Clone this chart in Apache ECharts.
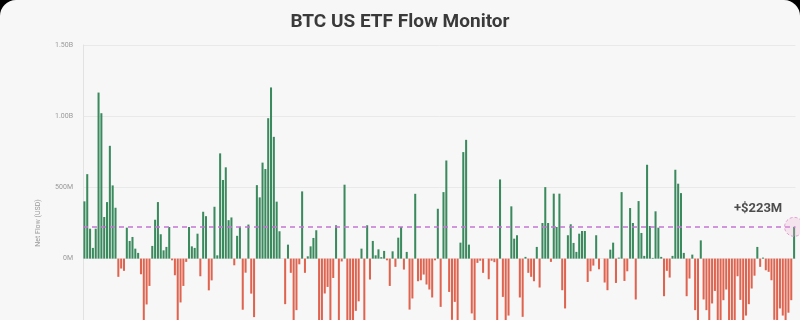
<!DOCTYPE html>
<html>
<head>
<meta charset="utf-8">
<script src="https://cdn.jsdelivr.net/npm/echarts@6/dist/echarts.min.js"></script>
<style>
html,body{margin:0;padding:0;width:800px;height:320px;overflow:hidden;background:#000;}
#c{width:800px;height:420px;background:#f7f7f7;border-radius:16px 16px 0 0;}
</style>
</head>
<body>
<div id="c"></div>
<script>
// Net flows in millions of USD left to right (segments)
var flowsA = [402, 593, 210, 75, 210, 1166, 1021, 292, 397, 792, 514, 357, -128, -70, -86, 217, 124, 152, 70, 40, -110, -550, -322, -192, 89, 273, 397, 171, 58, 82, 222, -12, -117, -520, -308, -192, -23, 222, 86, 75, 175, -124];
var flowsB = [329, 298, -223, -153, 364, 23, 739, 552, 641, 270, 289, -47, 160, 223, -359, -99, 239, -246, -411, 516, 430, 674, 629, 986, 1202, 855, 400, 192];
var flowsC = [0, -320, 98, -100, -450, -362, -40, 472, -100, 16, 86, 145, 199, -500];
var flowsD = [-520, -245, -199, -480, -136, 234, -600, -20, 519, -450, -600, -550, -367, -300, 70, -600, 234, -147, 124, 23, 65, 10, 54, -12, -192, 51, -58, 147, 222, -77, 47, -358, -280, 455, -159, -152, -112, -182, -217, -273, -12, 350];
var flowsE = [-339, 467, 689, -234, -430, -304, -500, 112, 748, 834, 98, -385, -520, -30, -15, -100, 0, -145, -15, -25, -550, 556, -269, -450, -400, 367, 140, 164, -273, -409, 12, -100, -128, -159, 82, -203, 250, 502, 250, -23, 456, 222, 456];
var flowsF = [-222, -350, 164, 241, 110, 47, 175, 194, 194, -164, -89, -49, 164, -75, 0, -168, -222, 63, 112, -171, 7, 467, -157, -89, 355, 250, -287, 404, 180, 19, 659, 229, 5, 332, 217, 12, -264, -86, -133, 19, 624, 526];
var flowsG = [460, 40, -264, -140, 28, -362, -520, 128, -287, -362, -480, -315, -227, -500, -460, -292, -217, -450, -600, -500, -124, -290, -480, -400, -320, -210, -120, 82, -58, 7, -82, -93, -152, -430, -470, -350, -400, -520, -380, -292, 223];
var latestFlow = 223;
var yTicks = {min: -1000, max: 1500, interval: 500};
var titleText = 'BTC US ETF Flow Monitor';
var yName = 'Net Flow (USD)';

var flows = [].concat(flowsA, flowsB, flowsC, flowsD, flowsE, flowsF, flowsG);
var days = flows.map(function(v, i){ return 'Day ' + (i + 1); });

function fmt(v){
  var a = Math.abs(v);
  if (a >= 1000) return (v/1000).toFixed(2) + 'B';
  return v + 'M';
}

var chart = echarts.init(document.getElementById('c'), null, {renderer:'canvas'});
chart.setOption({
  backgroundColor: 'transparent',
  animation: false,
  title: {
    text: titleText, left: 'center', top: 8,
    textStyle: {fontFamily: 'Roboto', fontWeight: 'bold', fontSize: 19, color: '#3a3a3a'}
  },
  grid: {left: 83, right: 4.5, top: 45, bottom: 19},
  xAxis: {
    type: 'category', data: days,
    axisLine: {show: false}, axisTick: {show: false}, axisLabel: {show: false}, splitLine: {show: false}
  },
  yAxis: {
    type: 'value', min: yTicks.min, max: yTicks.max, interval: yTicks.interval,
    name: yName, nameLocation: 'middle', nameGap: 30,
    nameTextStyle: {fontFamily: 'Roboto', fontSize: 7, color: '#999'},
    axisLine: {show: true, lineStyle: {color: '#e2e2e2'}},
    axisTick: {show: false},
    axisLabel: {formatter: fmt, fontFamily: 'Roboto', fontSize: 7, color: '#999', margin: 10},
    splitLine: {lineStyle: {color: '#e9e9e9', width: 1}}
  },
  series: [{
    type: 'bar',
    data: flows,
    barCategoryGap: '28%',
    itemStyle: {
      color: function(p){ return p.value >= 0 ? '#3a8a5e' : '#df6450'; }
    },
    markLine: {
      silent: true, symbol: ['none', 'none'],
      label: {show: false},
      lineStyle: {type: [5, 4], color: '#c476d2', width: 1.5},
      data: [{yAxis: latestFlow}]
    }
  }, {
    type: 'scatter',
    data: [[days[days.length - 1], latestFlow]],
    symbol: 'circle', symbolSize: 19,
    itemStyle: {color: 'rgba(240,175,215,0.35)', borderColor: '#d990c9', borderWidth: 1, borderType: [3, 2]},
    label: {
      show: true, position: 'top', distance: 2, offset: [-36, 0],
      formatter: '+$' + latestFlow + 'M',
      fontFamily: 'Roboto', fontWeight: 'bold', fontSize: 13, color: '#222'
    },
    z: 5
  }]
});
</script>
</body>
</html>
